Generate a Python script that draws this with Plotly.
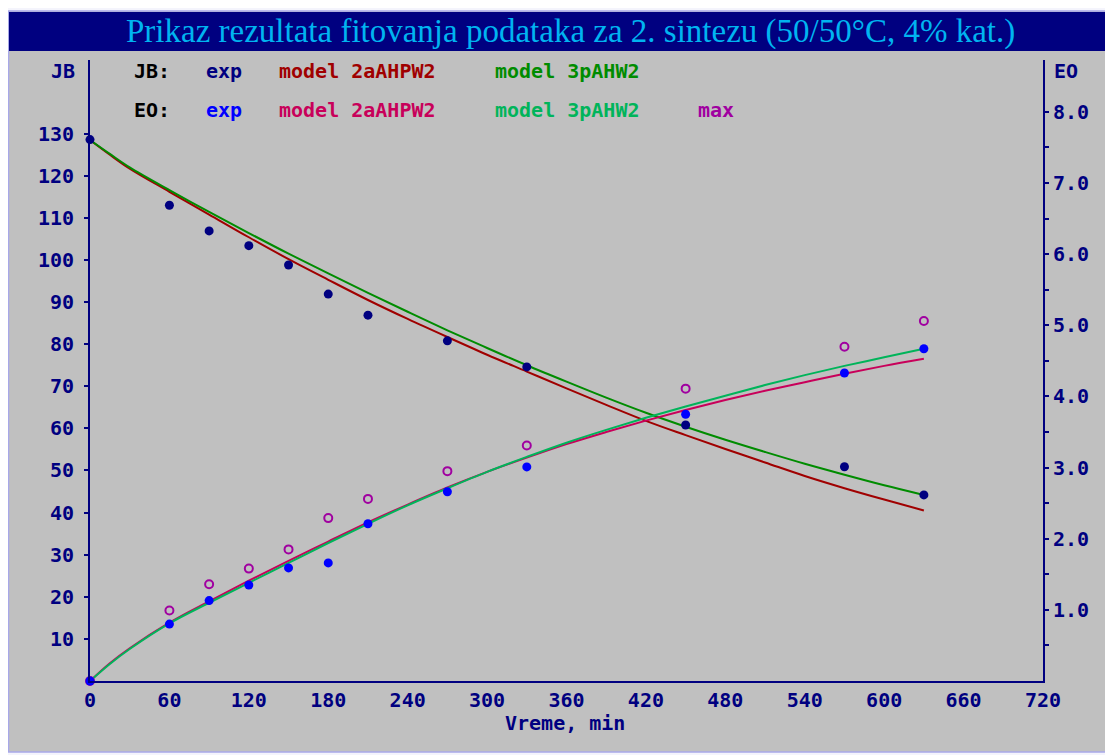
import plotly.graph_objects as go

# ---------------- data ----------------
t_exp = [0, 60, 90, 120, 150, 180, 210, 270, 330, 450, 570, 630]
jb_exp = [128.6, 113.0, 106.9, 103.4, 98.8, 91.9, 86.9, 80.8, 74.6, 60.8, 50.9, 44.2]
eo_exp = [0.0, 0.80, 1.13, 1.35, 1.59, 1.66, 2.21, 2.66, 3.01, 3.75, 4.33, 4.67]
eo_max = [0.0, 0.99, 1.36, 1.58, 1.85, 2.29, 2.56, 2.95, 3.31, 4.11, 4.70, 5.06]

t_model = [0, 15, 30, 60, 90, 120, 150, 180, 210, 240, 270, 300, 330,
           360, 390, 420, 450, 480, 510, 540, 570, 600, 630]
jb_2aAHPW2 = [128.5, 125.0, 121.7, 116.2, 110.8, 105.4, 100.2, 95.3, 90.5, 86.0, 81.7, 77.5,
              73.5, 69.5, 65.6, 61.8, 58.4, 55.1, 51.9, 48.7, 45.8, 43.1, 40.5]
jb_3pAHW2 = [128.5, 125.2, 122.0, 116.6, 111.4, 106.4, 101.5, 96.8, 92.2, 87.7, 83.3, 79.1,
             75.0, 71.1, 67.3, 63.7, 60.4, 57.3, 54.4, 51.6, 49.0, 46.5, 44.2]
eo_2aAHPW2 = [0.0, 0.25, 0.46, 0.82, 1.12, 1.41, 1.69, 1.96, 2.23, 2.48, 2.72, 2.94,
              3.14, 3.33, 3.50, 3.66, 3.81, 3.95, 4.08, 4.20, 4.32, 4.43, 4.53]
eo_3pAHW2 = [0.0, 0.24, 0.45, 0.81, 1.10, 1.38, 1.66, 1.94, 2.21, 2.47, 2.71, 2.94,
             3.15, 3.35, 3.53, 3.70, 3.86, 4.01, 4.16, 4.30, 4.43, 4.55, 4.67]

x_ticks = list(range(0, 721, 60))
x_tick_marks = list(range(60, 661, 60))
jb_ticks = list(range(10, 131, 10))
eo_ticks = [0.5 * i for i in range(1, 17)]
eo_ticktext = [f"{v:.1f}" if i % 2 == 1 else "" for i, v in enumerate(eo_ticks)]

title_text = "Prikaz rezultata fitovanja podataka za 2. sintezu (50/50°C, 4% kat.)"

# ---------------- styling ----------------
OFF = 8                      # default page body margin
W, H = 1113 - OFF, 755 - OFF
L, R, T, B = 82, 70, 52, 74
PW, PH = W - L - R, H - T - B
NAVY = "#000080"
MONO = "DejaVu Sans Mono"
JB_RANGE = [0, 147.5]
EO_RANGE = [0, 8.73]


def pxx(px):
    """page pixel x -> paper coordinate"""
    return (px - OFF - L) / PW


def pxy(py):
    """page pixel y -> paper coordinate"""
    return (H - B - (py - OFF)) / PH


fig = go.Figure()

# model curves
fig.add_trace(go.Scatter(x=t_model, y=jb_2aAHPW2, mode="lines", yaxis="y",
                         line=dict(color="#a00000", width=2, shape="spline"), cliponaxis=False))
fig.add_trace(go.Scatter(x=t_model, y=jb_3pAHW2, mode="lines", yaxis="y",
                         line=dict(color="#008c00", width=2, shape="spline"), cliponaxis=False))
fig.add_trace(go.Scatter(x=t_model, y=eo_2aAHPW2, mode="lines", yaxis="y2",
                         line=dict(color="#c8005a", width=2, shape="spline"), cliponaxis=False))
fig.add_trace(go.Scatter(x=t_model, y=eo_3pAHW2, mode="lines", yaxis="y2",
                         line=dict(color="#00b45a", width=2, shape="spline"), cliponaxis=False))

# experimental points
fig.add_trace(go.Scatter(x=t_exp, y=jb_exp, mode="markers", yaxis="y",
                         marker=dict(color=NAVY, size=9), cliponaxis=False))
fig.add_trace(go.Scatter(x=t_exp, y=eo_max, mode="markers", yaxis="y2",
                         marker=dict(symbol="circle-open", color="#a000a0", size=8,
                                     line=dict(width=2, color="#a000a0")), cliponaxis=False))
fig.add_trace(go.Scatter(x=t_exp, y=eo_exp, mode="markers", yaxis="y2",
                         marker=dict(color="#0000ff", size=9), cliponaxis=False))

tickfont = dict(family=MONO, size=20, color=NAVY, weight="bold")
noax = dict(showgrid=False, zeroline=False, showline=False, showticklabels=False)

fig.update_layout(
    width=W, height=H,
    margin=dict(l=L, r=R, t=T, b=B, pad=0),
    paper_bgcolor="#f4f4fc",
    plot_bgcolor="rgba(0,0,0,0)",
    showlegend=False,
    xaxis=dict(range=[0, 720], tickvals=x_ticks, ticks="", showline=True, linecolor=NAVY,
               linewidth=2, showgrid=False, zeroline=False, tickfont=tickfont,
               ticklabelstandoff=0),
    xaxis2=dict(overlaying="x", anchor="y", side="bottom", range=[0, 720], tickvals=x_tick_marks,
                ticks="inside", ticklen=4, tickwidth=2, tickcolor=NAVY, **noax),
    xaxis3=dict(overlaying="x", anchor="y", side="bottom", range=[0, 720], tickvals=x_tick_marks,
                ticks="outside", ticklen=4, tickwidth=2, tickcolor=NAVY, **noax),
    yaxis=dict(range=JB_RANGE, tickvals=jb_ticks, ticks="outside", ticklen=4, tickwidth=2,
               tickcolor=NAVY, showline=True, linecolor=NAVY, linewidth=2, showgrid=False,
               zeroline=False, tickfont=tickfont, ticklabelstandoff=6, anchor="x"),
    yaxis2=dict(range=EO_RANGE, overlaying="y", side="right", anchor="x", tickvals=eo_ticks,
                ticktext=eo_ticktext, ticks="outside", ticklen=4, tickwidth=2, tickcolor=NAVY,
                showline=True, linecolor=NAVY, linewidth=2, showgrid=False, zeroline=False,
                tickfont=tickfont, ticklabelstandoff=0),
    yaxis3=dict(range=JB_RANGE, overlaying="y", side="left", anchor="x", tickvals=jb_ticks,
                ticks="inside", ticklen=4, tickwidth=2, tickcolor=NAVY, **noax),
    yaxis4=dict(range=EO_RANGE, overlaying="y", side="right", anchor="x", tickvals=eo_ticks,
                ticks="inside", ticklen=4, tickwidth=2, tickcolor=NAVY, **noax),
)

# background frame and title bar
fig.add_shape(type="rect", xref="paper", yref="paper", layer="below",
              x0=pxx(OFF + 0.5), x1=pxx(1125), y0=pxy(752), y1=pxy(11),
              fillcolor="#c0c0c0", line=dict(color="#a8a8e8", width=1.5))
fig.add_shape(type="rect", xref="paper", yref="paper", layer="below",
              x0=pxx(OFF + 1), x1=pxx(1125), y0=pxy(51), y1=pxy(12),
              fillcolor="#000080", line=dict(width=0))

annotations = []
annotations.append(dict(text=title_text, x=pxx(570), y=pxy(31.5), xref="paper", yref="paper",
                        xanchor="center", yanchor="middle", showarrow=False,
                        font=dict(family="Liberation Serif", size=33, color="#00b4f0")))

legend_font = 20
legend_items = [
    ("JB:", 132, 71.5, "#000000"),
    ("exp", 204, 71.5, NAVY),
    ("model 2aAHPW2", 277, 71.5, "#a00000"),
    ("model 3pAHW2", 493, 71.5, "#008c00"),
    ("EO:", 132, 110, "#000000"),
    ("exp", 204, 110, "#0000ff"),
    ("model 2aAHPW2", 277, 110, "#c8005a"),
    ("model 3pAHW2", 493, 110, "#00b45a"),
    ("max", 696, 110, "#a000a0"),
]
for txt, lx, ly, col in legend_items:
    annotations.append(dict(text=txt, x=pxx(lx), y=pxy(ly), xref="paper", yref="paper",
                            xanchor="left", yanchor="middle", showarrow=False,
                            font=dict(family=MONO, size=legend_font, color=col, weight="bold")))

annotations.append(dict(text="JB", x=pxx(77), y=pxy(71.5), xref="paper", yref="paper",
                        xanchor="right", yanchor="middle", showarrow=False,
                        font=dict(family=MONO, size=20, color=NAVY, weight="bold")))
annotations.append(dict(text="EO", x=pxx(1052), y=pxy(71.5), xref="paper", yref="paper",
                        xanchor="left", yanchor="middle", showarrow=False,
                        font=dict(family=MONO, size=20, color=NAVY, weight="bold")))
annotations.append(dict(text="Vreme, min", x=pxx(565), y=pxy(723), xref="paper", yref="paper",
                        xanchor="center", yanchor="middle", showarrow=False,
                        font=dict(family=MONO, size=20, color=NAVY, weight="bold")))
fig.update_layout(annotations=annotations)

fig.write_html("out.html")
